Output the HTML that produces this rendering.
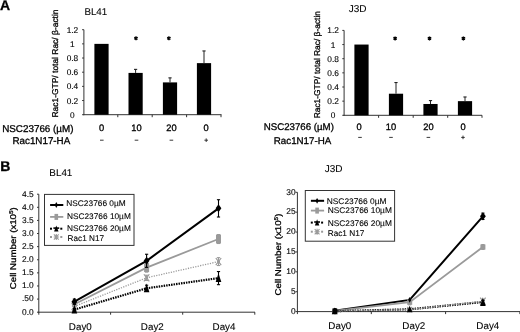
<!DOCTYPE html>
<html><head><meta charset="utf-8"><style>
html,body{margin:0;padding:0;background:#fff;overflow:hidden;}
svg{display:block;font-family:"Liberation Sans", sans-serif;filter:blur(0.35px);text-rendering:geometricPrecision;} text{stroke:#000;stroke-width:0.3px;} text.lg{stroke-width:0.1px;} text.tk{stroke-width:0.12px;} text.tt{stroke-width:0.1px;}
</style></head><body>
<svg width="520" height="332" viewBox="0 0 520 332">
<text x="0" y="10" font-size="14" text-anchor="start" font-weight="bold" fill="#000">A</text>
<text x="84.4" y="15.0" font-size="9.8" text-anchor="start" font-weight="normal" fill="#000" class="tt">BL41</text>
<text x="0" y="0" font-size="8.45" text-anchor="start" font-weight="normal" fill="#000" transform="translate(57.8,117.5) rotate(-90)">Rac1-GTP/ total Rac/ &#946;-actin</text>
<line x1="83.9" y1="29.7" x2="83.9" y2="115.2" stroke="#333" stroke-width="1" />
<line x1="83.4" y1="114.7" x2="221.5" y2="114.7" stroke="#333" stroke-width="1" />
<line x1="82.10" y1="114.7" x2="83.9" y2="114.7" stroke="#333" stroke-width="1" />
<text x="72.4" y="117.7" font-size="8.3" text-anchor="middle" font-weight="normal" fill="#000" class="tk">0</text>
<line x1="82.10" y1="100.53" x2="83.9" y2="100.53" stroke="#333" stroke-width="1" />
<text x="72.4" y="103.53" font-size="8.3" text-anchor="middle" font-weight="normal" fill="#000" class="tk">0.2</text>
<line x1="82.10" y1="86.37" x2="83.9" y2="86.37" stroke="#333" stroke-width="1" />
<text x="72.4" y="89.37" font-size="8.3" text-anchor="middle" font-weight="normal" fill="#000" class="tk">0.4</text>
<line x1="82.10" y1="72.20" x2="83.9" y2="72.20" stroke="#333" stroke-width="1" />
<text x="72.4" y="75.20" font-size="8.3" text-anchor="middle" font-weight="normal" fill="#000" class="tk">0.6</text>
<line x1="82.10" y1="58.03" x2="83.9" y2="58.03" stroke="#333" stroke-width="1" />
<text x="72.4" y="61.03" font-size="8.3" text-anchor="middle" font-weight="normal" fill="#000" class="tk">0.8</text>
<line x1="82.10" y1="43.87" x2="83.9" y2="43.87" stroke="#333" stroke-width="1" />
<text x="72.4" y="46.87" font-size="8.3" text-anchor="middle" font-weight="normal" fill="#000" class="tk">1</text>
<line x1="82.10" y1="29.70" x2="83.9" y2="29.70" stroke="#333" stroke-width="1" />
<text x="72.4" y="32.70" font-size="8.3" text-anchor="middle" font-weight="normal" fill="#000" class="tk">1.2</text>
<line x1="117.8" y1="114.7" x2="117.8" y2="117.2" stroke="#333" stroke-width="1" />
<line x1="152.2" y1="114.7" x2="152.2" y2="117.2" stroke="#333" stroke-width="1" />
<line x1="186.6" y1="114.7" x2="186.6" y2="117.2" stroke="#333" stroke-width="1" />
<line x1="221" y1="114.7" x2="221" y2="117.2" stroke="#333" stroke-width="1" />
<rect x="94.4" y="43.87" width="14.2" height="70.83" fill="#000" />
<rect x="128.5" y="72.91" width="14.2" height="41.79" fill="#000" />
<line x1="135.6" y1="69.37" x2="135.6" y2="72.91" stroke="#222" stroke-width="1" />
<line x1="134.0" y1="69.37" x2="137.2" y2="69.37" stroke="#222" stroke-width="1.1" />
<rect x="162.9" y="82.4" width="14.2" height="32.3" fill="#000" />
<line x1="170.0" y1="77.87" x2="170.0" y2="82.4" stroke="#222" stroke-width="1" />
<line x1="168.4" y1="77.87" x2="171.6" y2="77.87" stroke="#222" stroke-width="1.1" />
<rect x="196.9" y="63.13" width="14.2" height="51.57" fill="#000" />
<line x1="204.0" y1="50.95" x2="204.0" y2="63.13" stroke="#222" stroke-width="1" />
<line x1="202.4" y1="50.95" x2="205.6" y2="50.95" stroke="#222" stroke-width="1.1" />
<path d="M136.00,36.30 L136.00,40.30 M137.73,37.30 L134.27,39.30 M137.73,39.30 L134.27,37.30 " stroke="#000" stroke-width="1.3"/>
<path d="M168.90,36.30 L168.90,40.30 M170.63,37.30 L167.17,39.30 M170.63,39.30 L167.17,37.30 " stroke="#000" stroke-width="1.3"/>
<text x="101.6" y="131.3" font-size="9.3" text-anchor="middle" font-weight="normal" fill="#000">0</text>
<text x="136.5" y="131.3" font-size="9.3" text-anchor="middle" font-weight="normal" fill="#000">10</text>
<text x="171.4" y="131.3" font-size="9.3" text-anchor="middle" font-weight="normal" fill="#000">20</text>
<text x="206.2" y="131.3" font-size="9.3" text-anchor="middle" font-weight="normal" fill="#000">0</text>
<text x="2.2" y="131.7" font-size="9.85" text-anchor="start" font-weight="normal" fill="#000">NSC23766 (&#181;M)</text>
<text x="12.5" y="144.2" font-size="9.8" text-anchor="start" font-weight="normal" fill="#000">Rac1N17-HA</text>
<line x1="100.0" y1="140.2" x2="103.6" y2="140.2" stroke="#222" stroke-width="0.9" />
<line x1="134.7" y1="140.2" x2="138.3" y2="140.2" stroke="#222" stroke-width="0.9" />
<line x1="169.6" y1="140.2" x2="173.20" y2="140.2" stroke="#222" stroke-width="0.9" />
<line x1="204.40" y1="140.2" x2="208.0" y2="140.2" stroke="#222" stroke-width="0.9" />
<line x1="206.2" y1="138.4" x2="206.2" y2="142" stroke="#222" stroke-width="0.9" />
<text x="348.8" y="11.7" font-size="10" text-anchor="start" font-weight="normal" fill="#000" class="tt">J3D</text>
<text x="0" y="0" font-size="8.4" text-anchor="start" font-weight="normal" fill="#000" transform="translate(320.4,118.3) rotate(-90)">Rac1-GTP/ total Rac/ &#946;-actin</text>
<line x1="344.1" y1="30.4" x2="344.1" y2="115.8" stroke="#333" stroke-width="1" />
<line x1="343.6" y1="115.3" x2="482" y2="115.3" stroke="#333" stroke-width="1" />
<line x1="342.3" y1="115.3" x2="344.1" y2="115.3" stroke="#333" stroke-width="1" />
<text x="333.1" y="118.3" font-size="8.3" text-anchor="middle" font-weight="normal" fill="#000" class="tk">0</text>
<line x1="342.3" y1="101.15" x2="344.1" y2="101.15" stroke="#333" stroke-width="1" />
<text x="333.1" y="104.15" font-size="8.3" text-anchor="middle" font-weight="normal" fill="#000" class="tk">0.2</text>
<line x1="342.3" y1="87.00" x2="344.1" y2="87.00" stroke="#333" stroke-width="1" />
<text x="333.1" y="90.00" font-size="8.3" text-anchor="middle" font-weight="normal" fill="#000" class="tk">0.4</text>
<line x1="342.3" y1="72.85" x2="344.1" y2="72.85" stroke="#333" stroke-width="1" />
<text x="333.1" y="75.85" font-size="8.3" text-anchor="middle" font-weight="normal" fill="#000" class="tk">0.6</text>
<line x1="342.3" y1="58.70" x2="344.1" y2="58.70" stroke="#333" stroke-width="1" />
<text x="333.1" y="61.70" font-size="8.3" text-anchor="middle" font-weight="normal" fill="#000" class="tk">0.8</text>
<line x1="342.3" y1="44.55" x2="344.1" y2="44.55" stroke="#333" stroke-width="1" />
<text x="333.1" y="47.55" font-size="8.3" text-anchor="middle" font-weight="normal" fill="#000" class="tk">1</text>
<line x1="342.3" y1="30.40" x2="344.1" y2="30.40" stroke="#333" stroke-width="1" />
<text x="333.1" y="33.40" font-size="8.3" text-anchor="middle" font-weight="normal" fill="#000" class="tk">1.2</text>
<line x1="378.6" y1="115.3" x2="378.6" y2="117.8" stroke="#333" stroke-width="1" />
<line x1="413.2" y1="115.3" x2="413.2" y2="117.8" stroke="#333" stroke-width="1" />
<line x1="447.7" y1="115.3" x2="447.7" y2="117.8" stroke="#333" stroke-width="1" />
<line x1="482" y1="115.3" x2="482" y2="117.8" stroke="#333" stroke-width="1" />
<rect x="354.4" y="44.55" width="14.2" height="70.75" fill="#000" />
<rect x="388.9" y="93.72" width="14.2" height="21.58" fill="#000" />
<line x1="396.0" y1="82.54" x2="396.0" y2="93.72" stroke="#222" stroke-width="1" />
<line x1="394.4" y1="82.54" x2="397.6" y2="82.54" stroke="#222" stroke-width="1.1" />
<rect x="423.4" y="103.98" width="14.2" height="11.32" fill="#000" />
<line x1="430.5" y1="100.58" x2="430.5" y2="103.98" stroke="#222" stroke-width="1" />
<line x1="428.9" y1="100.58" x2="432.1" y2="100.58" stroke="#222" stroke-width="1.1" />
<rect x="457.9" y="101.15" width="14.2" height="14.15" fill="#000" />
<line x1="465.0" y1="96.98" x2="465.0" y2="101.15" stroke="#222" stroke-width="1" />
<line x1="463.4" y1="96.98" x2="466.6" y2="96.98" stroke="#222" stroke-width="1.1" />
<path d="M395.10,36.40 L395.10,40.40 M396.83,37.40 L393.37,39.40 M396.83,39.40 L393.37,37.40 " stroke="#000" stroke-width="1.3"/>
<path d="M429.50,36.40 L429.50,40.40 M431.23,37.40 L427.77,39.40 M431.23,39.40 L427.77,37.40 " stroke="#000" stroke-width="1.3"/>
<path d="M463.40,36.40 L463.40,40.40 M465.13,37.40 L461.67,39.40 M465.13,39.40 L461.67,37.40 " stroke="#000" stroke-width="1.3"/>
<text x="359.2" y="129.8" font-size="9.3" text-anchor="middle" font-weight="normal" fill="#000">0</text>
<text x="391.0" y="129.8" font-size="9.3" text-anchor="middle" font-weight="normal" fill="#000">10</text>
<text x="428.4" y="129.8" font-size="9.3" text-anchor="middle" font-weight="normal" fill="#000">20</text>
<text x="463.0" y="129.8" font-size="9.3" text-anchor="middle" font-weight="normal" fill="#000">0</text>
<text x="263.8" y="129.7" font-size="9.68" text-anchor="start" font-weight="normal" fill="#000">NSC23766 (&#181;M)</text>
<text x="273.8" y="144.1" font-size="9.75" text-anchor="start" font-weight="normal" fill="#000">Rac1N17-HA</text>
<line x1="358.2" y1="137.4" x2="361.8" y2="137.4" stroke="#222" stroke-width="0.9" />
<line x1="389.2" y1="137.4" x2="392.8" y2="137.4" stroke="#222" stroke-width="0.9" />
<line x1="426.60" y1="137.4" x2="430.2" y2="137.4" stroke="#222" stroke-width="0.9" />
<line x1="461.2" y1="137.4" x2="464.8" y2="137.4" stroke="#222" stroke-width="0.9" />
<line x1="463.0" y1="135.6" x2="463.0" y2="139.2" stroke="#222" stroke-width="0.9" />
<text x="0.3" y="170.6" font-size="14" text-anchor="start" font-weight="bold" fill="#000">B</text>
<text x="49.3" y="176.4" font-size="9.9" text-anchor="start" font-weight="normal" fill="#000" class="tt">BL41</text>
<text x="0" y="0" font-size="8.4" text-anchor="start" font-weight="normal" fill="#000" textLength="82.0" lengthAdjust="spacingAndGlyphs" transform="translate(15.6,289.2) rotate(-90)">Cell Number (x10<tspan font-size="5.6" dy="-3">5</tspan><tspan dy="3">)</tspan></text>
<line x1="38.8" y1="194.2" x2="38.8" y2="312.7" stroke="#333" stroke-width="1" />
<line x1="38.3" y1="312.2" x2="255" y2="312.2" stroke="#333" stroke-width="1" />
<line x1="37.0" y1="312.2" x2="38.8" y2="312.2" stroke="#333" stroke-width="1" />
<text x="33.7" y="314.5" font-size="8.4" text-anchor="end" font-weight="normal" fill="#000" class="tk">0.0</text>
<line x1="37.0" y1="299.09" x2="38.8" y2="299.09" stroke="#333" stroke-width="1" />
<text x="33.7" y="301.39" font-size="8.4" text-anchor="end" font-weight="normal" fill="#000" class="tk">.50</text>
<line x1="37.0" y1="285.98" x2="38.8" y2="285.98" stroke="#333" stroke-width="1" />
<text x="33.7" y="288.28" font-size="8.4" text-anchor="end" font-weight="normal" fill="#000" class="tk">1.0</text>
<line x1="37.0" y1="272.87" x2="38.8" y2="272.87" stroke="#333" stroke-width="1" />
<text x="33.7" y="275.17" font-size="8.4" text-anchor="end" font-weight="normal" fill="#000" class="tk">1.5</text>
<line x1="37.0" y1="259.76" x2="38.8" y2="259.76" stroke="#333" stroke-width="1" />
<text x="33.7" y="262.06" font-size="8.4" text-anchor="end" font-weight="normal" fill="#000" class="tk">2.0</text>
<line x1="37.0" y1="246.64" x2="38.8" y2="246.64" stroke="#333" stroke-width="1" />
<text x="33.7" y="248.94" font-size="8.4" text-anchor="end" font-weight="normal" fill="#000" class="tk">2.5</text>
<line x1="37.0" y1="233.53" x2="38.8" y2="233.53" stroke="#333" stroke-width="1" />
<text x="33.7" y="235.83" font-size="8.4" text-anchor="end" font-weight="normal" fill="#000" class="tk">3.0</text>
<line x1="37.0" y1="220.42" x2="38.8" y2="220.42" stroke="#333" stroke-width="1" />
<text x="33.7" y="222.72" font-size="8.4" text-anchor="end" font-weight="normal" fill="#000" class="tk">3.5</text>
<line x1="37.0" y1="207.31" x2="38.8" y2="207.31" stroke="#333" stroke-width="1" />
<text x="33.7" y="209.61" font-size="8.4" text-anchor="end" font-weight="normal" fill="#000" class="tk">4.0</text>
<line x1="37.0" y1="194.2" x2="38.8" y2="194.2" stroke="#333" stroke-width="1" />
<text x="33.7" y="196.5" font-size="8.4" text-anchor="end" font-weight="normal" fill="#000" class="tk">4.5</text>
<line x1="38.8" y1="312.2" x2="38.8" y2="314.7" stroke="#333" stroke-width="1" />
<line x1="110.6" y1="312.2" x2="110.6" y2="314.7" stroke="#333" stroke-width="1" />
<line x1="182.7" y1="312.2" x2="182.7" y2="314.7" stroke="#333" stroke-width="1" />
<line x1="254.8" y1="312.2" x2="254.8" y2="314.7" stroke="#333" stroke-width="1" />
<polyline points="74.4,301.7 146.6,260.8 218.5,208.4" fill="none" stroke="#000" stroke-width="2" />
<polyline points="74.4,304.3 146.6,267.6 218.5,239.0" fill="none" stroke="#9a9a9a" stroke-width="1.8" />
<polyline points="74.4,309.6 146.6,288.3 218.5,278.1" fill="none" stroke="#000" stroke-width="2.2" stroke-dasharray="1.5 1.0"/>
<polyline points="74.4,306.4 146.6,277.8 218.5,261.6" fill="none" stroke="#9a9a9a" stroke-width="1.3" stroke-dasharray="1.2 1.3"/>
<line x1="74.4" y1="303.28" x2="74.4" y2="305.38" stroke="#9a9a9a" stroke-width="1.1" />
<line x1="72.80" y1="303.28" x2="76.0" y2="303.28" stroke="#9a9a9a" stroke-width="1.1" />
<line x1="72.80" y1="305.38" x2="76.0" y2="305.38" stroke="#9a9a9a" stroke-width="1.1" />
<rect x="71.9" y="301.73" width="5.0" height="5.2" fill="#9a9a9a" />
<line x1="146.6" y1="263.16" x2="146.6" y2="272.08" stroke="#9a9a9a" stroke-width="1.1" />
<line x1="145.0" y1="263.16" x2="148.2" y2="263.16" stroke="#9a9a9a" stroke-width="1.1" />
<line x1="145.0" y1="272.08" x2="148.2" y2="272.08" stroke="#9a9a9a" stroke-width="1.1" />
<rect x="144.1" y="263.16" width="5.0" height="8.92" fill="#9a9a9a" />
<line x1="218.5" y1="234.58" x2="218.5" y2="243.50" stroke="#9a9a9a" stroke-width="1.1" />
<line x1="216.9" y1="234.58" x2="220.1" y2="234.58" stroke="#9a9a9a" stroke-width="1.1" />
<line x1="216.9" y1="243.50" x2="220.1" y2="243.50" stroke="#9a9a9a" stroke-width="1.1" />
<rect x="216.0" y="234.58" width="5.0" height="8.92" fill="#9a9a9a" />
<line x1="74.4" y1="305.38" x2="74.4" y2="307.48" stroke="#9a9a9a" stroke-width="1.1" />
<line x1="72.80" y1="305.38" x2="76.0" y2="305.38" stroke="#9a9a9a" stroke-width="1.1" />
<line x1="72.80" y1="307.48" x2="76.0" y2="307.48" stroke="#9a9a9a" stroke-width="1.1" />
<path d="M71.7,302.83 L77.10,310.03 M77.10,302.83 L71.7,310.03 M72.9,306.43 L75.9,306.43" stroke="#9a9a9a" stroke-width="1.2"/>
<line x1="146.6" y1="275.23" x2="146.6" y2="280.47" stroke="#9a9a9a" stroke-width="1.1" />
<line x1="145.0" y1="275.23" x2="148.2" y2="275.23" stroke="#9a9a9a" stroke-width="1.1" />
<line x1="145.0" y1="280.47" x2="148.2" y2="280.47" stroke="#9a9a9a" stroke-width="1.1" />
<path d="M143.9,274.25 L149.30,281.45 M149.30,274.25 L143.9,281.45 M145.1,277.85 L148.1,277.85" stroke="#9a9a9a" stroke-width="1.2"/>
<line x1="218.5" y1="257.66" x2="218.5" y2="265.52" stroke="#9a9a9a" stroke-width="1.1" />
<line x1="216.9" y1="257.66" x2="220.1" y2="257.66" stroke="#9a9a9a" stroke-width="1.1" />
<line x1="216.9" y1="265.52" x2="220.1" y2="265.52" stroke="#9a9a9a" stroke-width="1.1" />
<path d="M215.8,257.99 L221.2,265.19 M221.2,257.99 L215.8,265.19 M217.0,261.59 L220.0,261.59" stroke="#9a9a9a" stroke-width="1.2"/>
<line x1="74.4" y1="308.53" x2="74.4" y2="310.63" stroke="#000" stroke-width="1.1" />
<line x1="72.80" y1="308.53" x2="76.0" y2="308.53" stroke="#000" stroke-width="1.1" />
<line x1="72.80" y1="310.63" x2="76.0" y2="310.63" stroke="#000" stroke-width="1.1" />
<path d="M74.4,304.78 L77.2,313.58 L71.60,313.58 Z" fill="#000"/>
<line x1="146.6" y1="285.19" x2="146.6" y2="291.48" stroke="#000" stroke-width="1.1" />
<line x1="145.0" y1="285.19" x2="148.2" y2="285.19" stroke="#000" stroke-width="1.1" />
<line x1="145.0" y1="291.48" x2="148.2" y2="291.48" stroke="#000" stroke-width="1.1" />
<path d="M146.6,283.54 L149.4,292.34 L143.80,292.34 Z" fill="#000"/>
<line x1="218.5" y1="271.56" x2="218.5" y2="284.67" stroke="#000" stroke-width="1.1" />
<line x1="216.9" y1="271.56" x2="220.1" y2="271.56" stroke="#000" stroke-width="1.1" />
<line x1="216.9" y1="284.67" x2="220.1" y2="284.67" stroke="#000" stroke-width="1.1" />
<path d="M218.5,273.31 L221.3,282.11 L215.7,282.11 Z" fill="#000"/>
<line x1="74.4" y1="299.09" x2="74.4" y2="304.33" stroke="#000" stroke-width="1.1" />
<line x1="72.80" y1="299.09" x2="76.0" y2="299.09" stroke="#000" stroke-width="1.1" />
<line x1="72.80" y1="304.33" x2="76.0" y2="304.33" stroke="#000" stroke-width="1.1" />
<path d="M74.4,297.71 L77.30,301.71 L74.4,305.71 L71.5,301.71 Z" fill="#000"/>
<line x1="146.6" y1="254.25" x2="146.6" y2="267.36" stroke="#000" stroke-width="1.1" />
<line x1="145.0" y1="254.25" x2="148.2" y2="254.25" stroke="#000" stroke-width="1.1" />
<line x1="145.0" y1="267.36" x2="148.2" y2="267.36" stroke="#000" stroke-width="1.1" />
<path d="M146.6,256.80 L149.5,260.80 L146.6,264.80 L143.7,260.80 Z" fill="#000"/>
<line x1="218.5" y1="199.71" x2="218.5" y2="217.01" stroke="#000" stroke-width="1.1" />
<line x1="216.9" y1="199.71" x2="220.1" y2="199.71" stroke="#000" stroke-width="1.1" />
<line x1="216.9" y1="217.01" x2="220.1" y2="217.01" stroke="#000" stroke-width="1.1" />
<path d="M218.5,204.36 L221.4,208.36 L218.5,212.36 L215.6,208.36 Z" fill="#000"/>
<rect x="44.5" y="194.4" width="89.5" height="51" fill="none" stroke="#333" stroke-width="1"/>
<line x1="50.1" y1="205" x2="63.3" y2="205" stroke="#000" stroke-width="2" />
<path d="M56.3,202.1 L57.9,205 L56.3,207.9 L54.70,205 Z" fill="#000"/>
<text x="66.3" y="206.1" font-size="8.2" text-anchor="start" font-weight="normal" fill="#000" textLength="59.4" lengthAdjust="spacingAndGlyphs" class="lg">NSC23766 0&#181;M</text>
<line x1="50.1" y1="216.9" x2="63.3" y2="216.9" stroke="#9a9a9a" stroke-width="1.8" />
<rect x="54.5" y="213.9" width="3.6" height="6.0" fill="#9a9a9a" />
<text x="67.0" y="218.6" font-size="8.2" text-anchor="start" font-weight="normal" fill="#000" textLength="63.8" lengthAdjust="spacingAndGlyphs" class="lg">NSC23766 10&#181;M</text>
<rect x="50.0" y="227.7" width="2" height="2" fill="#000" />
<rect x="60.3" y="227.7" width="2" height="2" fill="#000" />
<path d="M56.3,225.40 L58.5,231.5 L54.10,231.5 Z" fill="#000"/>
<line x1="53.4" y1="228.1" x2="59.20" y2="228.1" stroke="#000" stroke-width="1.6" />
<text x="67.0" y="231.4" font-size="8.2" text-anchor="start" font-weight="normal" fill="#000" textLength="63.8" lengthAdjust="spacingAndGlyphs" class="lg">NSC23766 20&#181;M</text>
<rect x="50.0" y="236" width="2" height="2" fill="#9a9a9a" />
<rect x="60.3" y="236" width="2" height="2" fill="#9a9a9a" />
<path d="M53.9,234.4 L58.70,239.6 M58.70,234.4 L53.9,239.6 M56.3,234 L56.3,240 M53.70,237 L58.9,237" stroke="#9a9a9a" stroke-width="1.1"/>
<text x="67.6" y="241.3" font-size="8.2" text-anchor="start" font-weight="normal" fill="#000" textLength="36.4" lengthAdjust="spacingAndGlyphs" class="lg">Rac1 N17</text>
<text x="80.3" y="329.7" font-size="9.8" text-anchor="middle" font-weight="normal" fill="#000" class="tt">Day0</text>
<text x="152.3" y="329.7" font-size="9.8" text-anchor="middle" font-weight="normal" fill="#000" class="tt">Day2</text>
<text x="224.0" y="329.7" font-size="9.8" text-anchor="middle" font-weight="normal" fill="#000" class="tt">Day4</text>
<text x="324.8" y="172.3" font-size="10" text-anchor="start" font-weight="normal" fill="#000" class="tt">J3D</text>
<text x="0" y="0" font-size="8.4" text-anchor="start" font-weight="normal" fill="#000" textLength="82.0" lengthAdjust="spacingAndGlyphs" transform="translate(280.6,295.6) rotate(-90)">Cell Number (x10<tspan font-size="5.6" dy="-3">5</tspan><tspan dy="3">)</tspan></text>
<line x1="297.4" y1="192.3" x2="297.4" y2="312.1" stroke="#333" stroke-width="1" />
<line x1="296.9" y1="311.6" x2="520" y2="311.6" stroke="#333" stroke-width="1" />
<line x1="295.60" y1="311.6" x2="297.4" y2="311.6" stroke="#333" stroke-width="1" />
<text x="295.7" y="313.90" font-size="8.4" text-anchor="end" font-weight="normal" fill="#000" class="tk">0</text>
<line x1="295.60" y1="291.72" x2="297.4" y2="291.72" stroke="#333" stroke-width="1" />
<text x="295.7" y="294.02" font-size="8.4" text-anchor="end" font-weight="normal" fill="#000" class="tk">5</text>
<line x1="295.60" y1="271.83" x2="297.4" y2="271.83" stroke="#333" stroke-width="1" />
<text x="295.7" y="274.13" font-size="8.4" text-anchor="end" font-weight="normal" fill="#000" class="tk">10</text>
<line x1="295.60" y1="251.95" x2="297.4" y2="251.95" stroke="#333" stroke-width="1" />
<text x="295.7" y="254.25" font-size="8.4" text-anchor="end" font-weight="normal" fill="#000" class="tk">15</text>
<line x1="295.60" y1="232.07" x2="297.4" y2="232.07" stroke="#333" stroke-width="1" />
<text x="295.7" y="234.37" font-size="8.4" text-anchor="end" font-weight="normal" fill="#000" class="tk">20</text>
<line x1="295.60" y1="212.18" x2="297.4" y2="212.18" stroke="#333" stroke-width="1" />
<text x="295.7" y="214.48" font-size="8.4" text-anchor="end" font-weight="normal" fill="#000" class="tk">25</text>
<line x1="295.60" y1="192.3" x2="297.4" y2="192.3" stroke="#333" stroke-width="1" />
<text x="295.7" y="194.60" font-size="8.4" text-anchor="end" font-weight="normal" fill="#000" class="tk">30</text>
<line x1="297.4" y1="311.6" x2="297.4" y2="314.1" stroke="#333" stroke-width="1" />
<line x1="371.3" y1="311.6" x2="371.3" y2="314.1" stroke="#333" stroke-width="1" />
<line x1="445.6" y1="311.6" x2="445.6" y2="314.1" stroke="#333" stroke-width="1" />
<line x1="519.9" y1="311.6" x2="519.9" y2="314.1" stroke="#333" stroke-width="1" />
<polyline points="334.7,310.8 409.7,299.9 482.9,216.3" fill="none" stroke="#000" stroke-width="2" />
<polyline points="334.7,310.8 409.7,302.1 482.9,247.0" fill="none" stroke="#9a9a9a" stroke-width="1.8" />
<polyline points="334.7,311.2 409.7,309.3 482.9,302.0" fill="none" stroke="#000" stroke-width="2.2" stroke-dasharray="1.5 1.0"/>
<polyline points="334.7,311.2 409.7,309.6 482.9,301.3" fill="none" stroke="#9a9a9a" stroke-width="1.3" stroke-dasharray="1.2 1.3"/>
<rect x="332.2" y="308.20" width="5.0" height="5.2" fill="#9a9a9a" />
<line x1="409.7" y1="299.27" x2="409.7" y2="304.84" stroke="#9a9a9a" stroke-width="1.1" />
<line x1="408.10" y1="299.27" x2="411.3" y2="299.27" stroke="#9a9a9a" stroke-width="1.1" />
<line x1="408.10" y1="304.84" x2="411.3" y2="304.84" stroke="#9a9a9a" stroke-width="1.1" />
<rect x="407.2" y="299.27" width="5.0" height="5.57" fill="#9a9a9a" />
<line x1="482.9" y1="244.55" x2="482.9" y2="249.48" stroke="#9a9a9a" stroke-width="1.1" />
<line x1="481.30" y1="244.55" x2="484.5" y2="244.55" stroke="#9a9a9a" stroke-width="1.1" />
<line x1="481.30" y1="249.48" x2="484.5" y2="249.48" stroke="#9a9a9a" stroke-width="1.1" />
<rect x="480.4" y="244.42" width="5.0" height="5.2" fill="#9a9a9a" />
<path d="M332.3,308.60 L337.10,313.80 M337.10,308.60 L332.3,313.80 M333.2,311.20 L336.2,311.20" stroke="#9a9a9a" stroke-width="1.2"/>
<path d="M407.3,307.01 L412.10,312.21 M412.10,307.01 L407.3,312.21 M408.2,309.61 L411.2,309.61" stroke="#9a9a9a" stroke-width="1.2"/>
<line x1="482.9" y1="300.07" x2="482.9" y2="302.45" stroke="#9a9a9a" stroke-width="1.1" />
<line x1="481.30" y1="300.07" x2="484.5" y2="300.07" stroke="#9a9a9a" stroke-width="1.1" />
<line x1="481.30" y1="302.45" x2="484.5" y2="302.45" stroke="#9a9a9a" stroke-width="1.1" />
<path d="M480.2,297.66 L485.60,304.86 M485.60,297.66 L480.2,304.86 M481.4,301.26 L484.4,301.26" stroke="#9a9a9a" stroke-width="1.2"/>
<path d="M334.7,307.60 L337.60,314.20 L331.8,314.20 Z" fill="#000"/>
<path d="M409.7,305.69 L412.60,312.29 L406.8,312.29 Z" fill="#000"/>
<line x1="482.9" y1="300.43" x2="482.9" y2="303.61" stroke="#000" stroke-width="1.1" />
<line x1="481.30" y1="300.43" x2="484.5" y2="300.43" stroke="#000" stroke-width="1.1" />
<line x1="481.30" y1="303.61" x2="484.5" y2="303.61" stroke="#000" stroke-width="1.1" />
<path d="M482.9,297.22 L485.7,306.02 L480.10,306.02 Z" fill="#000"/>
<path d="M334.7,307.90 L336.3,310.80 L334.7,313.70 L333.10,310.80 Z" fill="#000"/>
<path d="M409.7,296.97 L411.3,299.87 L409.7,302.77 L408.10,299.87 Z" fill="#000"/>
<line x1="482.9" y1="213.14" x2="482.9" y2="219.50" stroke="#000" stroke-width="1.1" />
<line x1="481.30" y1="213.14" x2="484.5" y2="213.14" stroke="#000" stroke-width="1.1" />
<line x1="481.30" y1="219.50" x2="484.5" y2="219.50" stroke="#000" stroke-width="1.1" />
<path d="M482.9,212.32 L485.80,216.32 L482.9,220.32 L480.0,216.32 Z" fill="#000"/>
<ellipse cx="335" cy="311.1" rx="2.7" ry="3.1" fill="#000"/>
<rect x="305.3" y="190.5" width="89.3" height="50.7" fill="none" stroke="#333" stroke-width="1"/>
<line x1="310.90" y1="200.8" x2="324.1" y2="200.8" stroke="#000" stroke-width="2" />
<path d="M317.1,197.9 L318.70,200.8 L317.1,203.70 L315.5,200.8 Z" fill="#000"/>
<text x="326.7" y="203.5" font-size="8.2" text-anchor="start" font-weight="normal" fill="#000" textLength="59.8" lengthAdjust="spacingAndGlyphs" class="lg">NSC23766 0&#181;M</text>
<line x1="310.90" y1="210.6" x2="324.1" y2="210.6" stroke="#9a9a9a" stroke-width="1.8" />
<rect x="315.3" y="207.6" width="3.6" height="6.0" fill="#9a9a9a" />
<text x="327.7" y="212.9" font-size="8.2" text-anchor="start" font-weight="normal" fill="#000" textLength="64.2" lengthAdjust="spacingAndGlyphs" class="lg">NSC23766 10&#181;M</text>
<rect x="310.8" y="221.6" width="2" height="2" fill="#000" />
<rect x="321.1" y="221.6" width="2" height="2" fill="#000" />
<path d="M317.1,219.30 L319.3,225.4 L314.90,225.4 Z" fill="#000"/>
<line x1="314.20" y1="222.0" x2="320.0" y2="222.0" stroke="#000" stroke-width="1.6" />
<text x="327.7" y="226.0" font-size="8.2" text-anchor="start" font-weight="normal" fill="#000" textLength="64.2" lengthAdjust="spacingAndGlyphs" class="lg">NSC23766 20&#181;M</text>
<rect x="310.8" y="230.7" width="2" height="2" fill="#9a9a9a" />
<rect x="321.1" y="230.7" width="2" height="2" fill="#9a9a9a" />
<path d="M314.70,229.1 L319.5,234.30 M319.5,229.1 L314.70,234.30 M317.1,228.7 L317.1,234.7 M314.5,231.7 L319.70,231.7" stroke="#9a9a9a" stroke-width="1.1"/>
<text x="327.7" y="235.8" font-size="8.2" text-anchor="start" font-weight="normal" fill="#000" textLength="36.7" lengthAdjust="spacingAndGlyphs" class="lg">Rac1 N17</text>
<text x="339.8" y="329.2" font-size="9.8" text-anchor="middle" font-weight="normal" fill="#000" class="tt">Day0</text>
<text x="413.8" y="329.2" font-size="9.8" text-anchor="middle" font-weight="normal" fill="#000" class="tt">Day2</text>
<text x="487.8" y="329.2" font-size="9.8" text-anchor="middle" font-weight="normal" fill="#000" class="tt">Day4</text>
</svg>
</body></html>
